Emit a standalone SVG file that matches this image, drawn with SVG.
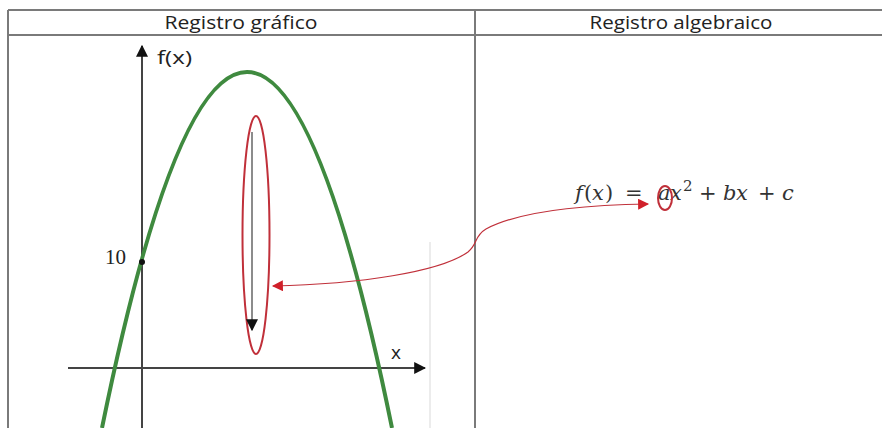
<svg xmlns="http://www.w3.org/2000/svg" width="882" height="428" viewBox="0 0 882 428">
<style>
.grid{stroke:#7a7a7a;stroke-width:2;fill:none}
.hdr{font-family:"Open Sans","Liberation Sans",sans-serif;font-size:18px;fill:#222;text-anchor:middle}
.axis{stroke:#444;stroke-width:2;fill:none}
.lbl{font-family:"Open Sans","Liberation Sans",sans-serif;font-size:19px;fill:#222}
.red{stroke:#c0303a;fill:none}
.math{font-family:"DejaVu Serif","Liberation Serif",serif;font-size:21px;fill:#333}
.it{font-style:italic}
</style>
<defs>
<marker id="blk" viewBox="0 0 10 10" refX="9" refY="5" markerWidth="12" markerHeight="12" markerUnits="userSpaceOnUse" orient="auto"><path d="M0,0 L10,5 L0,10 z" fill="#111"/></marker>
<marker id="redh" viewBox="0 0 10 10" refX="9" refY="5" markerWidth="13" markerHeight="11" markerUnits="userSpaceOnUse" orient="auto-start-reverse"><path d="M0,0 L10,5 L0,10 z" fill="#d0202a"/></marker>
</defs>
<rect width="882" height="428" fill="#fff"/>
<g id="table">
<line class="grid" x1="8" y1="10" x2="882" y2="10"/>
<line class="grid" x1="8" y1="35" x2="882" y2="35"/>
<line class="grid" x1="8" y1="10" x2="8" y2="428"/>
<line class="grid" x1="475" y1="10" x2="475" y2="428"/>
<line x1="430" y1="242" x2="430" y2="428" stroke="#ececec" stroke-width="2"/>
<text class="hdr" x="241" y="29" textLength="153" lengthAdjust="spacingAndGlyphs">Registro gráfico</text>
<text class="hdr" x="681" y="29" textLength="183" lengthAdjust="spacingAndGlyphs">Registro algebraico</text>
</g>
<g id="axes">
<line class="axis" x1="142" y1="428" x2="142" y2="46" marker-end="url(#blk)"/>
<line class="axis" x1="68" y1="368" x2="425" y2="368" marker-end="url(#blk)"/>
<text class="lbl" x="157" y="64" textLength="35" lengthAdjust="spacingAndGlyphs">f(x)</text>
<text class="lbl" x="391" y="359">x</text>
</g>
<g id="parabola">
<path d="M102,428 Q247,-284 392,428" fill="none" stroke="#3f8a3f" stroke-width="4"/>
<circle cx="142" cy="262" r="3" fill="#111"/>
<text x="105" y="264" font-family="Liberation Serif,serif" font-size="21" fill="#222">10</text>
</g>
<g id="vertical-change">
<ellipse class="red" cx="256" cy="235" rx="13.5" ry="119" stroke-width="2"/>
<line x1="252" y1="132" x2="252" y2="330" stroke="#666" stroke-width="1.5" marker-end="url(#blk)"/>
</g>
<g id="equation">
<text class="math" y="200"><tspan class="it" x="575">f</tspan><tspan x="584">(</tspan><tspan class="it" x="592">x</tspan><tspan x="605">)</tspan><tspan x="625">=</tspan><tspan class="it" x="658">a</tspan><tspan class="it" x="670">x</tspan><tspan x="683" dy="-9" font-size="15">2</tspan><tspan x="699" dy="9">+</tspan><tspan class="it" x="723">b</tspan><tspan class="it" x="736">x</tspan><tspan x="758">+</tspan><tspan class="it" x="782">c</tspan></text>
<ellipse class="red" cx="665" cy="198" rx="7" ry="12" stroke-width="2"/>
</g>
<g id="connectors">
<path class="red" stroke-width="1.2" d="M273,286 C360,284 440,272 468,252 C478,244 474,236 486,229 C520,211 580,205 648,204" marker-start="url(#redh)" marker-end="url(#redh)"/>
</g>
</svg>
